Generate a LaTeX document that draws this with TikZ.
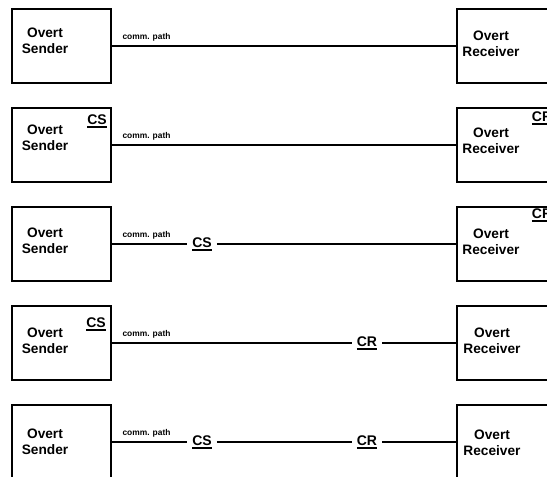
\documentclass[tikz,border=0pt]{standalone}
\usepackage{fontspec}
\setmainfont{Liberation Sans}
\newcommand{\ulbold}[1]{\setbox0\hbox{#1}\vtop{\copy0\kern1.6pt\hrule height 1.8pt width \wd0}}
\tikzstyle{hostbox}=[draw, line width=2pt, minimum width=99pt, minimum height=74pt, inner sep=0pt]
\tikzstyle{hosttext}=[align=center, inner sep=0pt, font=\fontsize{13.7}{16}\selectfont\bfseries]
\tikzstyle{pathtext}=[inner sep=0pt, font=\fontsize{8.4}{10}\selectfont\bfseries]
\tikzstyle{covert}=[inner xsep=5pt, inner ysep=1pt, font=\fontsize{14}{16}\selectfont\bfseries]
\tikzstyle{pathline}=[line width=1.3pt]

\begin{document}
\begin{tikzpicture}[x=1pt, y=-1pt]
        \path[use as bounding box] (0, 0) rectangle (547, 477);
        \clip (0, 0) rectangle (547, 477);

        % cajas
        \node[hostbox] (s1) at (61.5, 46) {};
        \node[hostbox] (s2) at (61.5, 145) {};
        \node[hostbox] (s3) at (61.5, 244) {};
        \node[hostbox] (s4) at (61.5, 343) {};
        \node[hostbox] (s5) at (61.5, 442) {};
        \node[hostbox] (r1) at (506.5, 46) {};
        \node[hostbox] (r2) at (506.5, 145) {};
        \node[hostbox] (r3) at (506.5, 244) {};
        \node[hostbox] (r4) at (506.5, 343) {};
        \node[hostbox] (r5) at (506.5, 442) {};

        % textos
        \node[hosttext] (s1t) at (45, 40.5) {Overt\\Sender};
        \node[hosttext] (s2t) at (45, 137.5) {Overt\\Sender};
        \node[hosttext] (s3t) at (45, 240.5) {Overt\\Sender};
        \node[hosttext] (s4t) at (45, 341) {Overt\\Sender};
        \node[hosttext] (s5t) at (45, 442) {Overt\\Sender};
        \node[hosttext] (r1t) at (491, 44) {Overt\\Receiver};
        \node[hosttext] (r2t) at (491, 140.5) {Overt\\Receiver};
        \node[hosttext] (r3t) at (491, 241.5) {Overt\\Receiver};
        \node[hosttext] (r4t) at (492, 341) {Overt\\Receiver};
        \node[hosttext] (r5t) at (492, 443) {Overt\\Receiver};

        \node[pathtext] (p1) at (146.5, 37) {comm. path};
        \node[pathtext] (p2) at (146.5, 136) {comm. path};
        \node[pathtext] (p3) at (146.5, 235) {comm. path};
        \node[pathtext] (p4) at (146.5, 334) {comm. path};
        \node[pathtext] (p5) at (146.5, 433) {comm. path};

        % canales encubiertos
        \node[covert] (cs2) at (97, 121) {\ulbold{CS}};
        \node[covert] (cr2) at (542, 118.5) {\ulbold{CR}};
        \node[covert] (cr3) at (542, 215) {\ulbold{CR}};
        \node[covert] (cs3) at (202, 244) {\ulbold{CS}};
        \node[covert] (cs4) at (96, 324) {\ulbold{CS}};
        \node[covert] (cr4) at (367, 343) {\ulbold{CR}};
        \node[covert] (cs5) at (202, 442) {\ulbold{CS}};
        \node[covert] (cr5) at (367, 442) {\ulbold{CR}};

        % caminos
        \draw[pathline] (s1) -- (r1);
        \draw[pathline] (s2) -- (r2);
        \draw[pathline] (s3) -- (cs3) -- (r3);
        \draw[pathline] (s4) -- (cr4) -- (r4);
        \draw[pathline] (s5) -- (cs5) -- (cr5) -- (r5);
    \end{tikzpicture}
\end{document}
